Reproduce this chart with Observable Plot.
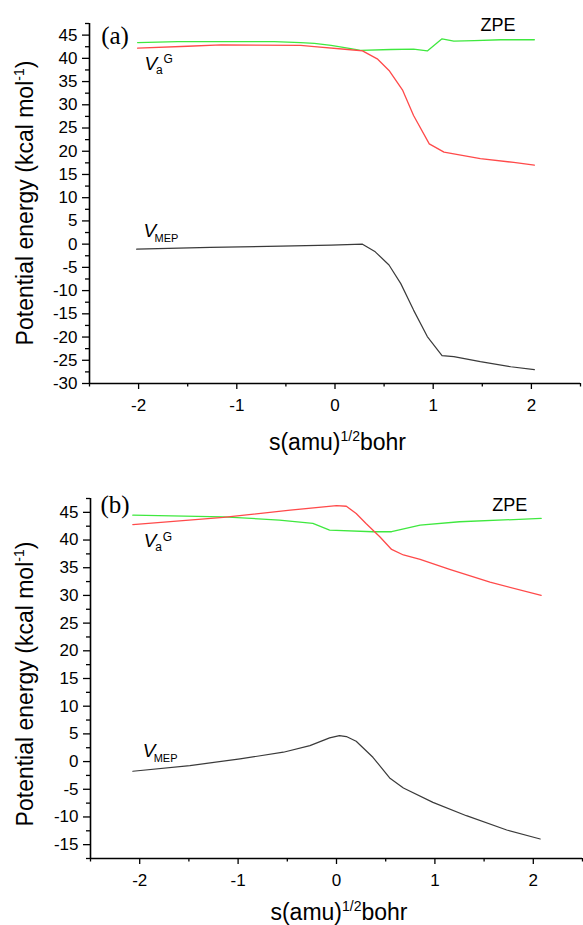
<!DOCTYPE html>
<html><head><meta charset="utf-8">
<script src="https://cdn.jsdelivr.net/npm/d3@7"></script>
<script src="https://cdn.jsdelivr.net/npm/@observablehq/plot@0.6"></script>
<style>
body{margin:0;background:#fff;}
#chart svg{display:block;}
</style></head><body><div id="chart"></div>
<script>
// ---------- Panel (a) data ----------
const sA_zpe = [-2.01,-1.6,-1.0,-0.62,-0.35,-0.21,-0.04,0.16,0.26,0.57,0.80,0.94,1.09,1.21,1.42,1.69,2.03];
const vA_zpe = [43.4,43.6,43.6,43.6,43.4,43.2,42.8,42.1,41.7,41.9,42.0,41.6,44.2,43.7,43.8,44.0,44.0];
const sA_vag = [-2.01,-1.5,-1.16,-0.35,-0.21,0.13,0.28,0.43,0.55,0.69,0.80,0.96,1.11,1.48,1.82,2.03];
const vA_vag = [42.2,42.6,42.9,42.8,42.5,41.9,41.6,39.9,37.4,33.1,27.7,21.6,19.8,18.4,17.6,17.0];
const sA_mep = [-2.02,-1.27,-0.55,-0.04,0.28,0.41,0.55,0.67,0.80,0.94,1.09,1.21,1.48,1.79,2.03];
const vA_mep = [-1.08,-0.7,-0.43,-0.22,0.0,-1.65,-4.5,-8.5,-14.2,-19.9,-24.0,-24.2,-25.3,-26.4,-27.0];

// ---------- Panel (b) data ----------
const sB_zpe = [-2.07,-1.15,-0.58,-0.24,-0.07,0.37,0.56,0.85,1.25,2.08];
const vB_zpe = [44.5,44.2,43.6,43.0,41.8,41.5,41.5,42.7,43.3,43.9];
const sB_vag = [-2.07,-1.15,-0.47,0.0,0.10,0.20,0.30,0.44,0.56,0.68,0.85,1.15,1.56,2.08];
const vB_vag = [42.8,44.1,45.4,46.2,46.1,44.8,43.0,40.6,38.3,37.3,36.5,34.7,32.4,30.0];
const sB_mep = [-2.07,-1.49,-0.98,-0.54,-0.27,-0.07,0.03,0.10,0.20,0.37,0.54,0.68,0.98,1.32,1.73,2.07];
const vB_mep = [-1.75,-0.72,0.48,1.69,2.89,4.28,4.7,4.52,3.67,0.78,-2.95,-4.76,-7.36,-9.77,-12.35,-13.98];

// ---------- Ticks ----------
const xMajor = [-2,-1,0,1,2];
const xMinor = [-2.5,-1.5,-0.5,0.5,1.5,2.5];
const yMajorA = [-30,-25,-20,-15,-10,-5,0,5,10,15,20,25,30,35,40,45];
const yMinorA = [-27.5,-22.5,-17.5,-12.5,-7.5,-2.5,2.5,7.5,12.5,17.5,22.5,27.5,32.5,37.5,42.5,47.5];
const yMajorB = [-15,-10,-5,0,5,10,15,20,25,30,35,40,45];
const yMinorB = [-17.5,-12.5,-7.5,-2.5,2.5,7.5,12.5,17.5,22.5,27.5,32.5,37.5,42.5,47.5];

// ---------- Labels ----------
const tagA = ["(a)"], tagB = ["(b)"];
const zpeLabel = "ZPE";
const xTitle = ["s(amu)", "1/2", "bohr"];
const yTitle = ["Potential energy (kcal mol", "-1", ")"];

const colors = {zpe: "#3fe83f", vag: "#ff4a4a", mep: "#3a3a3a"};

function zip(s, v) { return s.map((x, i) => ({s: x, v: v[i]})); }

function makePanel(cfg) {
  const sans = "'Liberation Sans', Arial, sans-serif";
  const chart = Plot.plot({
    width: 583, height: cfg.height,
    marginTop: cfg.mt, marginBottom: cfg.mb, marginLeft: cfg.ml, marginRight: cfg.mr,
    style: {fontFamily: sans, background: "white", color: "black", overflow: "visible"},
    x: {domain: [-2.5, 2.5]},
    y: {domain: cfg.yDomain},
    marks: [
      Plot.axisY({ticks: cfg.yMajor, tickSize: 7, tickPadding: 5, fontSize: 17, tickFormat: d => String(d), label: null, strokeWidth: 1.3}),
      Plot.axisY({ticks: cfg.yMinor, tickSize: 4, text: null, label: null, strokeWidth: 1.3}),
      Plot.axisX({ticks: xMajor, tickSize: 6, tickPadding: 9, fontSize: 17, tickFormat: d => String(d), label: null, strokeWidth: 1.3}),
      Plot.axisX({ticks: xMinor, tickSize: 3.5, text: null, label: null, strokeWidth: 1.3}),
      Plot.ruleX([-2.5], {stroke: "black", strokeWidth: 1.6}),
      Plot.ruleY([cfg.yDomain[0]], {stroke: "black", strokeWidth: 1.6}),
      Plot.line(zip(cfg.zpe[0], cfg.zpe[1]), {x: "s", y: "v", stroke: colors.zpe, strokeWidth: 1.3}),
      Plot.line(zip(cfg.vag[0], cfg.vag[1]), {x: "s", y: "v", stroke: colors.vag, strokeWidth: 1.3}),
      Plot.line(zip(cfg.mep[0], cfg.mep[1]), {x: "s", y: "v", stroke: colors.mep, strokeWidth: 1.2}),
      // panel tag
      Plot.text(cfg.tag, {x: () => cfg.tagPos[0], y: () => cfg.tagPos[1], text: d => d, fontFamily: "'Liberation Serif', 'Times New Roman', serif", fontSize: 25, textAnchor: "middle", fill: "black"}),
      // ZPE label
      Plot.text([zpeLabel], {x: () => cfg.zpePos[0], y: () => cfg.zpePos[1], text: d => d, fontSize: 18, textAnchor: "middle", fill: "black"}),
      // V_a^G label
      Plot.text(["V"], {x: () => cfg.vagPos[0], y: () => cfg.vagPos[1], text: d => d, fontSize: 19, fontStyle: "italic", textAnchor: "start", fill: "black"}),
      Plot.text(["a"], {x: () => cfg.vagPos[0], y: () => cfg.vagPos[1], text: d => d, fontSize: 12, dx: 11.5, dy: 6.5, textAnchor: "start", fill: "black"}),
      Plot.text(["G"], {x: () => cfg.vagPos[0], y: () => cfg.vagPos[1], text: d => d, fontSize: 12, dx: 19, dy: -4, textAnchor: "start", fill: "black"}),
      // V_MEP label
      Plot.text(["V"], {x: () => cfg.mepPos[0], y: () => cfg.mepPos[1], text: d => d, fontSize: 19, fontStyle: "italic", textAnchor: "start", fill: "black"}),
      Plot.text(["MEP"], {x: () => cfg.mepPos[0], y: () => cfg.mepPos[1], text: d => d, fontSize: 11, dx: 11, dy: 7, textAnchor: "start", fill: "black"})
    ]
  });
  const svg = d3.select(chart);
  const xs = chart.scale("x"), ys = chart.scale("y");
  // x axis title
  const xt = svg.append("text")
    .attr("x", xs.apply(0) + 3)
    .attr("y", ys.apply(cfg.yDomain[0]) + cfg.xTitleOffset)
    .attr("text-anchor", "middle")
    .attr("font-family", sans).attr("font-size", 23).attr("fill", "black");
  xt.append("tspan").text(xTitle[0]);
  xt.append("tspan").attr("font-size", 14).attr("dy", -9).text(xTitle[1]);
  xt.append("tspan").attr("dy", 9).text(xTitle[2]);
  // y axis title
  const cy = (ys.apply(cfg.yDomain[0]) + ys.apply(cfg.yDomain[1])) / 2 + cfg.yTitleShift;
  const yt = svg.append("text")
    .attr("transform", `translate(32.5,${cy}) rotate(-90)`)
    .attr("text-anchor", "middle")
    .attr("font-family", sans).attr("font-size", 23).attr("fill", "black");
  yt.append("tspan").text(yTitle[0]);
  yt.append("tspan").attr("font-size", 14).attr("dy", -9).text(yTitle[1]);
  yt.append("tspan").attr("dy", 9).text(yTitle[2]);
  return chart;
}

const root = document.getElementById("chart");
root.append(makePanel({
  height: 462, mt: 23, mb: 79, ml: 89, mr: 3,
  yDomain: [-30, 47.5], yMajor: yMajorA, yMinor: yMinorA,
  zpe: [sA_zpe, vA_zpe], vag: [sA_vag, vA_vag], mep: [sA_mep, vA_mep],
  tag: tagA, tagPos: [-2.24, 44.9], zpePos: [1.66, 47.1],
  vagPos: [-1.94, 38.9], mepPos: [-1.95, 2.8],
  xTitleOffset: 67, yTitleShift: 0
}));
root.append(makePanel({
  height: 463, mt: 36, mb: 67, ml: 90, mr: 1,
  yDomain: [-17.5, 47.5], yMajor: yMajorB, yMinor: yMinorB,
  zpe: [sB_zpe, vB_zpe], vag: [sB_vag, vB_vag], mep: [sB_mep, vB_mep],
  tag: tagB, tagPos: [-2.25, 46.3], zpePos: [1.76, 46.3],
  vagPos: [-1.96, 39.8], mepPos: [-1.97, 1.84],
  xTitleOffset: 62, yTitleShift: 6
}));
</script></body></html>
